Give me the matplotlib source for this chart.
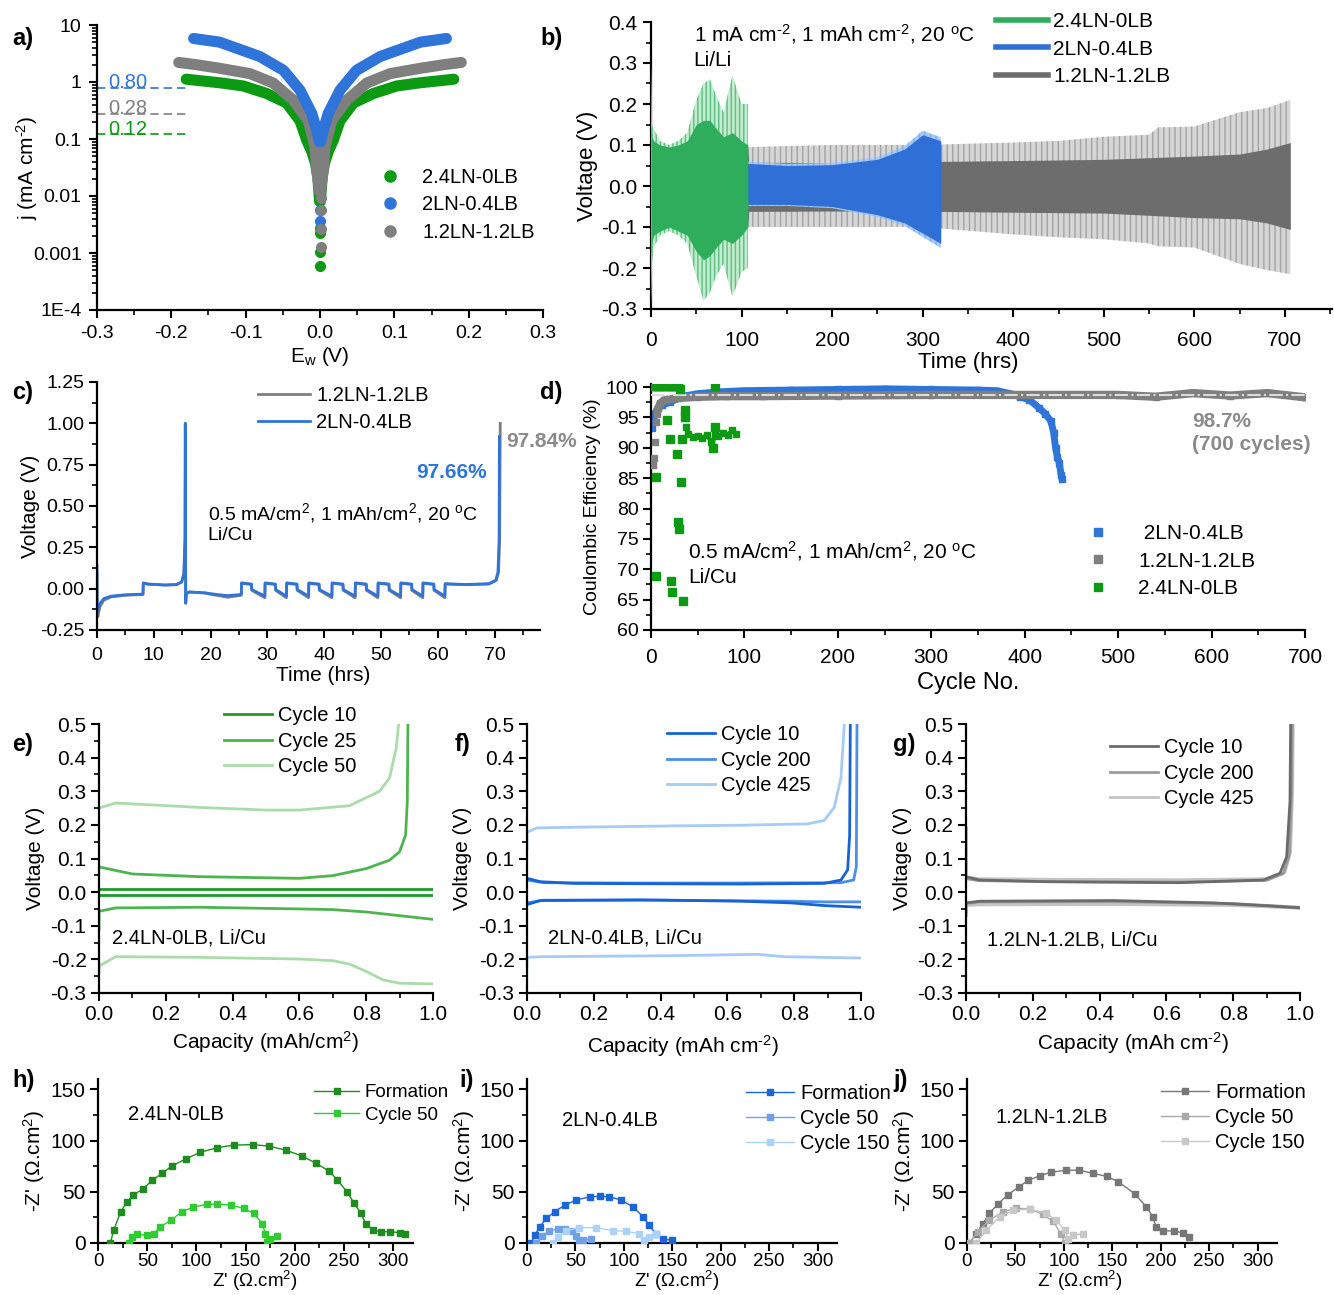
import matplotlib
matplotlib.use('Agg')
import matplotlib.pyplot as plt
from matplotlib.ticker import MultipleLocator, FixedLocator, LogLocator, NullFormatter
from matplotlib.lines import Line2D

plt.rcParams['font.family'] = ['Liberation Sans', 'DejaVu Sans']
plt.rcParams['mathtext.fontset'] = 'custom'
plt.rcParams['mathtext.rm'] = 'Liberation Sans'
plt.rcParams['mathtext.it'] = 'Liberation Sans:italic'
plt.rcParams['mathtext.bf'] = 'Liberation Sans:bold'
plt.rcParams['mathtext.default'] = 'regular'
plt.rcParams['hatch.linewidth'] = 1.0

W, H = 1334, 1295

# ---------------- data ----------------
# a) Tafel plot, positive branch (negative branch is symmetric)
a_E_green = [0.0005, 0.003, 0.006, 0.011, 0.018, 0.027, 0.045, 0.072, 0.103, 0.135, 0.16, 0.18]
a_j_green = [0.008, 0.022, 0.037, 0.06, 0.096, 0.21, 0.43, 0.63, 0.85, 0.97, 1.05, 1.12]
a_E_gray = [0.0005, 0.0045, 0.0067, 0.0157, 0.036, 0.063, 0.094, 0.135, 0.165, 0.19]
a_j_gray = [0.012, 0.029, 0.074, 0.21, 0.48, 0.96, 1.4, 1.74, 2.0, 2.2]
a_E_blue = [0.001, 0.0045, 0.011, 0.027, 0.049, 0.081, 0.135, 0.17]
a_j_blue = [0.09, 0.145, 0.28, 0.72, 1.6, 2.8, 5.0, 5.8]
a_dots_green = [0.0006, 0.00105, 0.0022, 0.0027]
a_dots_gray = [0.00126, 0.0026, 0.0056, 0.0091]
a_dots_blue = [0.0037, 0.0056]
a_j0 = [0.80, 0.28, 0.12]
a_j0_labels = ['0.80', '0.28', '0.12']

# b) Li/Li cycling envelopes
b_gray_t = [0, 107, 108, 200, 320, 400, 500, 600, 650, 680, 706]
b_gray_in_hi = [0.095, 0.095, 0.058, 0.057, 0.06, 0.062, 0.065, 0.073, 0.078, 0.09, 0.106]
b_gray_in_lo = [-0.10, -0.10, -0.062, -0.061, -0.062, -0.064, -0.066, -0.077, -0.08, -0.09, -0.106]
b_grayo_t = [108, 200, 300, 400, 450, 500, 550, 560, 600, 650, 680, 706]
b_gray_out_hi = [0.095, 0.10, 0.10, 0.106, 0.11, 0.12, 0.125, 0.143, 0.145, 0.18, 0.19, 0.21]
b_gray_out_lo = [-0.10, -0.10, -0.10, -0.118, -0.125, -0.13, -0.14, -0.147, -0.15, -0.19, -0.205, -0.215]
b_blue_t = [50, 108, 150, 200, 250, 280, 300, 320]
b_blue_hi = [0.06, 0.055, 0.05, 0.052, 0.065, 0.09, 0.125, 0.11]
b_blue_lo = [-0.065, -0.045, -0.045, -0.05, -0.07, -0.09, -0.115, -0.14]
b_green_t = [0, 1, 3, 10, 20, 30, 40, 50, 58, 65, 72, 80, 90, 100, 107]
b_green_hi = [0.30, 0.15, 0.14, 0.11, 0.10, 0.11, 0.13, 0.21, 0.25, 0.26, 0.22, 0.18, 0.27, 0.20, 0.20]
b_green_lo = [-0.30, -0.19, -0.15, -0.12, -0.11, -0.12, -0.14, -0.22, -0.28, -0.26, -0.22, -0.19, -0.27, -0.21, -0.20]
b_greeni_hi = [0.15, 0.12, 0.11, 0.10, 0.095, 0.10, 0.11, 0.15, 0.16, 0.16, 0.14, 0.12, 0.13, 0.11, 0.10]
b_greeni_lo = [-0.18, -0.14, -0.12, -0.11, -0.10, -0.11, -0.12, -0.16, -0.18, -0.17, -0.15, -0.13, -0.14, -0.12, -0.10]

# c) Li/Cu voltage profile (first cycles)
c_t_blue = [0, 0.02, 0.15, 0.5, 1.2, 2.5, 5, 8.1, 8.15, 9, 12, 14, 14.9, 15.3, 15.5, 15.55, 15.62, 15.7, 16.3, 19, 21, 23, 25.4,
            25.45, 27.2, 27.25, 29.55, 29.6, 31.4, 31.45, 33.35, 33.4, 35.2, 35.25, 37.25, 37.3, 39.1, 39.15, 41.35,
            41.4, 43.3, 43.35, 45.45, 45.5, 47.4, 47.45, 49.45, 49.5, 51.4, 51.45, 53.45, 53.5, 55.4, 55.45, 57.35,
            57.4, 59.3, 59.35, 61.25, 61.3, 65, 69, 70.2, 70.6, 70.8, 70.85]
c_v_blue = [0.14, -0.09, -0.14, -0.09, -0.06, -0.045, -0.037, -0.033, 0.035, 0.028, 0.022, 0.025, 0.04, 0.09, 0.3, 1.0, -0.085, -0.03, -0.02, -0.025, -0.035, -0.042, -0.035,
            0.035, 0.028, -0.005, -0.045, 0.035, 0.028, -0.005, -0.045, 0.035, 0.028, -0.005, -0.045, 0.035, 0.028, -0.005, -0.045,
            0.035, 0.028, -0.005, -0.045, 0.035, 0.028, -0.005, -0.045, 0.035, 0.028, -0.005, -0.045, 0.035, 0.028, -0.005, -0.045,
            0.035, 0.028, -0.005, -0.045, 0.03, 0.025, 0.03, 0.05, 0.1, 0.3, 0.92]
c_t_gray = [0, 0.02, 0.15, 0.5, 1.2, 2.5, 5, 8.1, 8.15, 9, 12, 14, 14.9, 15.3, 15.5, 15.55, 15.62, 15.7, 16.3, 19, 21, 23, 25.4,
            25.45, 27.2, 27.25, 29.55, 29.6, 31.4, 31.45, 33.35, 33.4, 35.2, 35.25, 37.25, 37.3, 39.1, 39.15, 41.35,
            41.4, 43.3, 43.35, 45.45, 45.5, 47.4, 47.45, 49.45, 49.5, 51.4, 51.45, 53.45, 53.5, 55.4, 55.45, 57.35,
            57.4, 59.3, 59.35, 61.25, 61.3, 65, 69, 70.3, 70.7, 70.9, 71.0]
c_v_gray = [0.1, -0.12, -0.17, -0.11, -0.07, -0.05, -0.04, -0.035, 0.033, 0.027, 0.022, 0.024, 0.04, 0.09, 0.3, 1.0, -0.09, -0.03, -0.02, -0.027, -0.04, -0.052, -0.04,
            0.032, 0.025, -0.01, -0.055, 0.032, 0.025, -0.01, -0.055, 0.032, 0.025, -0.01, -0.055, 0.032, 0.025, -0.01, -0.055,
            0.032, 0.025, -0.01, -0.055, 0.032, 0.025, -0.01, -0.055, 0.032, 0.025, -0.01, -0.055, 0.032, 0.025, -0.01, -0.055,
            0.032, 0.025, -0.01, -0.055, 0.028, 0.024, 0.028, 0.05, 0.1, 0.3, 1.0]

# d) Coulombic efficiency
d_blue_cyc = [1, 2, 4, 7, 12, 20, 35, 50, 72, 100, 150, 200, 250, 300, 350, 370, 385, 395, 405, 415, 422, 428, 431, 433, 435, 437, 439, 440]
d_blue_ce = [93.3, 94.5, 95.6, 96.5, 97.0, 97.5, 98.5, 98.9, 99.2, 99.4, 99.5, 99.6, 99.7, 99.6, 99.5, 99.4, 98.9, 98.4, 97.9, 96.6, 95.6, 94.4, 92.5, 90.0, 88.5, 87.5, 85.5, 84.8]
d_gray_cyc = [8, 10, 14, 20, 30, 50, 80, 120, 200, 300, 400, 500, 540, 580, 620, 660, 700]
d_gray_ce = [96.5, 97.3, 97.8, 98.0, 98.2, 98.4, 98.5, 98.5, 98.6, 98.7, 98.7, 98.7, 98.4, 99.0, 98.6, 99.0, 98.3]
d_gray_early_cyc = [2, 3, 4, 5, 6]
d_gray_early_ce = [87.1, 88.3, 91.0, 94.3, 95.5]
d_gray_mean = 98.7
d_green_cyc = [1, 3, 5, 7, 9, 11, 13, 15, 17, 19, 21, 23, 25, 27, 29, 31, 5, 5, 17, 20, 21, 22, 28, 32, 29, 30, 34, 33, 36, 36, 69, 66, 68]
d_green_ce = [100.1, 100.1, 100.1, 100.1, 100.1, 100.1, 100.1, 100.1, 100.1, 100.1, 100.1, 100.1, 100.1, 100.1, 100.1, 99.6,
              85.2, 68.9, 94.5, 91.4, 68.1, 66.3, 88.9, 84.4, 77.7, 76.6, 64.7, 91.4, 96.3, 95.0, 100.1, 89.9, 93.4]
d_green_band_cyc = [37, 40, 45, 50, 55, 60, 64, 66, 68, 72, 77, 82, 87, 91]
d_green_band_ce = [93.5, 92.2, 91.8, 92.0, 91.6, 92.1, 91.0, 90.2, 92.8, 92.0, 92.4, 92.1, 92.9, 92.3]

# e) 2.4LN-0LB voltage profiles
e_c10_x = [0.0, 1.0]
e_c10_up = [0.009, 0.009]
e_c10_dn = [-0.008, -0.008]
e_c25_ch_x = [0.0, 0.1, 0.3, 0.6, 0.7, 0.8, 0.87, 0.9, 0.918, 0.923, 0.925]
e_c25_ch_v = [0.075, 0.054, 0.046, 0.041, 0.049, 0.07, 0.095, 0.12, 0.17, 0.27, 0.50]
e_c25_dc_x = [0.0, 0.0, 0.05, 0.3, 0.6, 0.7, 0.8, 0.9, 1.0]
e_c25_dc_v = [-0.11, -0.057, -0.047, -0.045, -0.05, -0.052, -0.059, -0.07, -0.081]
e_c50_ch_x = [0.0, 0.05, 0.3, 0.5, 0.6, 0.75, 0.84, 0.87, 0.89, 0.897]
e_c50_ch_v = [0.25, 0.265, 0.252, 0.244, 0.244, 0.257, 0.30, 0.34, 0.43, 0.50]
e_c50_dc_x = [0.0, 0.0, 0.05, 0.3, 0.6, 0.7, 0.75, 0.8, 0.85, 0.9, 1.0]
e_c50_dc_v = [-0.24, -0.22, -0.192, -0.194, -0.199, -0.204, -0.214, -0.236, -0.261, -0.271, -0.273]

# f) 2LN-0.4LB voltage profiles
f_c10_ch_x = [0.0, 0.04, 0.14, 0.34, 0.64, 0.89, 0.94, 0.96, 0.966, 0.968]
f_c10_ch_v = [0.041, 0.031, 0.026, 0.025, 0.024, 0.026, 0.036, 0.066, 0.17, 0.50]
f_c10_dc_x = [0.0, 0.04, 0.34, 0.64, 0.79, 0.89, 1.0]
f_c10_dc_v = [-0.037, -0.025, -0.023, -0.027, -0.032, -0.04, -0.045]
f_c200_ch_x = [0.0, 0.05, 0.3, 0.6, 0.94, 0.978, 0.986, 0.988]
f_c200_ch_v = [0.036, 0.028, 0.027, 0.027, 0.028, 0.036, 0.075, 0.50]
f_c200_dc_x = [0.0, 0.05, 0.4, 0.79, 0.89, 1.0]
f_c200_dc_v = [-0.032, -0.024, -0.024, -0.027, -0.029, -0.029]
f_c425_ch_x = [0.0, 0.0, 0.03, 0.14, 0.44, 0.64, 0.84, 0.89, 0.92, 0.94, 0.95]
f_c425_ch_v = [0.13, 0.178, 0.191, 0.193, 0.197, 0.199, 0.203, 0.213, 0.252, 0.34, 0.50]
f_c425_dc_x = [0.0, 0.0, 0.04, 0.44, 0.69, 0.77, 1.0]
f_c425_dc_v = [-0.22, -0.194, -0.192, -0.189, -0.185, -0.192, -0.196]

# g) 1.2LN-1.2LB voltage profiles
g_c10_ch_x = [0.0, 0.0, 0.04, 0.24, 0.64, 0.89, 0.94, 0.96, 0.97, 0.972]
g_c10_ch_v = [0.19, 0.046, 0.036, 0.031, 0.028, 0.036, 0.056, 0.105, 0.27, 0.50]
g_c10_dc_x = [0.0, 0.0, 0.04, 0.44, 0.74, 0.89, 1.0]
g_c10_dc_v = [-0.07, -0.032, -0.027, -0.025, -0.032, -0.04, -0.047]
g_c200_ch_x = [0.0, 0.04, 0.3, 0.64, 0.9, 0.95, 0.968, 0.975, 0.977]
g_c200_ch_v = [0.04, 0.034, 0.031, 0.03, 0.035, 0.055, 0.11, 0.3, 0.50]
g_c200_dc_x = [0.0, 0.04, 0.44, 0.8, 1.0]
g_c200_dc_v = [-0.034, -0.03, -0.029, -0.034, -0.045]
g_c425_ch_x = [0.0, 0.04, 0.3, 0.64, 0.9, 0.955, 0.972, 0.978, 0.98]
g_c425_ch_v = [0.045, 0.04, 0.038, 0.037, 0.04, 0.058, 0.12, 0.3, 0.50]
g_c425_dc_x = [0.0, 0.0, 0.04, 0.44, 0.8, 1.0]
g_c425_dc_v = [-0.06, -0.04, -0.038, -0.037, -0.04, -0.048]

# h-j) Nyquist plots
h_form_x = [12.5, 16, 23, 29.5, 36, 46, 55, 65, 75, 89, 104, 121, 138, 157, 174, 191, 207, 221, 235, 243, 253, 260, 267, 272, 279, 287, 297, 307, 312]
h_form_y = [0, 12.5, 30.5, 40, 47, 53, 61, 68, 75, 82, 88.5, 93, 95.5, 96, 94.5, 90.5, 85, 78, 70, 61.6, 50, 39, 29, 19, 12.5, 11, 11, 10, 8.5]
h_c50_x = [31, 35, 40, 50, 57, 63, 74, 85, 97, 111, 121, 135, 148, 158, 167, 170, 172, 175, 182]
h_c50_y = [0, 6, 8.5, 7.5, 9, 15.7, 22, 30.5, 35, 37.8, 38, 37, 33.8, 29, 19, 9, 1, 4, 6.5]
i_form_x = [4.5, 8, 13, 20, 28.5, 39, 51, 64.6, 75, 85, 97, 109, 120, 126, 133, 140, 150]
i_form_y = [0, 7.5, 15.7, 24, 30.5, 37, 42, 45, 45.6, 45, 42, 35.4, 25.6, 17.4, 9, 4, 2.6]
i_c50_x = [9.6, 15, 23, 32, 39, 46, 51, 54, 58, 66]
i_c50_y = [0, 6.5, 11.8, 14, 14, 12, 7, 0, 2.6, 4]
i_c150_x = [27, 32, 40.5, 54, 71.5, 89, 102, 116, 121, 126, 133]
i_c150_y = [0, 6, 12, 15, 15, 12, 11.5, 9, 2.6, 6, 9]
j_form_x = [2.7, 9.6, 16.5, 23, 32, 42, 54, 63, 75, 87, 102, 116, 130, 144, 156, 173, 185, 192, 195, 202, 214, 223, 229]
j_form_y = [0, 9, 19, 29, 38, 47, 55, 61, 65.6, 69, 71, 71, 68, 65, 60, 48, 35.4, 25.6, 15.7, 11.8, 11.8, 9.8, 6]
j_c50_x = [2.7, 11, 23, 37, 51, 65, 78, 89, 97, 101]
j_c50_y = [0, 11, 22, 30.5, 34, 33, 28, 21, 9, 0]
j_c150_x = [9.6, 20, 34, 47, 65, 82, 92, 101, 104, 109, 120]
j_c150_y = [0, 12.5, 25.6, 32, 33, 29, 22, 12.5, 4, 7.5, 9]

# colours
GREEN, BLUE, GRAY = '#0b9a12', '#2f74d8', '#7f7f7f'

fig = plt.figure(figsize=(W / 100, H / 100), dpi=100)


def add_ax(box, size=14, pad=3):
    l, t, r, b = box
    ax = fig.add_axes([l / W, 1 - b / H, (r - l) / W, (b - t) / H])
    for s in ('top', 'right'):
        ax.spines[s].set_visible(False)
    for s in ('left', 'bottom'):
        ax.spines[s].set_linewidth(1.6)
    ax.tick_params(which='major', direction='out', length=6, width=1.5, labelsize=size, pad=pad)
    ax.tick_params(which='minor', direction='out', length=3.5, width=1.2)
    return ax


def set_labels(ax, box, xlabel, xc, xtop, ylabel, yright, size=15, ysize=None):
    l, t, r, b = box
    ax.set_xlabel(xlabel, fontsize=size)
    ax.set_ylabel(ylabel, fontsize=ysize or size)
    ax.xaxis.set_label_coords((xc - l) / (r - l), (b - xtop) / (b - t))
    ax.yaxis.set_label_coords((yright - l) / (r - l), 0.5)


def legend(ax, handles, labels, x, top, hl=2.5, size=14, spacing=0.3, tp=0.3):
    ax.legend(handles, labels, loc='upper left', bbox_to_anchor=(x / W, 1 - top / H),
              bbox_transform=fig.transFigure, frameon=False, fontsize=size, handlelength=hl,
              handletextpad=tp, labelspacing=spacing, borderpad=0, borderaxespad=0)


def letter(s, x, y):
    fig.text(x / W, 1 - y / H, s, fontsize=17, fontweight='bold', va='center', ha='left')


# ---------------- a) ----------------
box_a = (97, 25, 543, 310)
ax = add_ax(box_a, pad=5)
for E, j, col in [(a_E_green, a_j_green, GREEN), (a_E_gray, a_j_gray, GRAY), (a_E_blue, a_j_blue, BLUE)]:
    xs = [-e for e in reversed(E)] + list(E)
    ys = list(reversed(j)) + list(j)
    ax.plot(xs, ys, color=col, lw=8, solid_capstyle='round', solid_joinstyle='round', zorder=2)
ax.plot([0.0] * len(a_dots_green), a_dots_green, 'o', color=GREEN, ms=7, zorder=3)
ax.plot([0.0] * len(a_dots_blue), a_dots_blue, 'o', color=BLUE, ms=7, zorder=3)
ax.plot([0.001] * len(a_dots_gray), a_dots_gray, 'o', color=GRAY, ms=7, zorder=4)
for jv, lab, col in zip(a_j0, a_j0_labels, [BLUE, GRAY, GREEN]):
    ax.plot([-0.3, -0.178], [jv, jv], ls='--', color=col, lw=1.2, dashes=(5, 3))
    ax.text(-0.285, jv * 1.22, lab, color=col, fontsize=14.5, va='center', ha='left')
ax.set_yscale('log')
ax.set_xlim(-0.3, 0.3)
ax.set_ylim(1e-4, 10)
ax.xaxis.set_major_locator(FixedLocator([-0.3, -0.2, -0.1, 0.0, 0.1, 0.2, 0.3]))
ax.set_xticklabels(['-0.3', '-0.2', '-0.1', '0.0', '0.1', '0.2', '0.3'])
ax.xaxis.set_minor_locator(MultipleLocator(0.05))
ax.yaxis.set_major_locator(FixedLocator([1e-4, 1e-3, 1e-2, 1e-1, 1, 10]))
ax.set_yticklabels(['1E-4', '0.001', '0.01', '0.1', '1', '10'])
ax.yaxis.set_minor_locator(LogLocator(base=10, subs=range(2, 10), numticks=20))
ax.yaxis.set_minor_formatter(NullFormatter())
set_labels(ax, box_a, 'E$_w$ (V)', 320, 345, 'j (mA cm$^{\u2010 2}$)', 40)
hs = [Line2D([], [], ls='none', marker='o', ms=8, color=c) for c in (GREEN, BLUE, GRAY)]
legend(ax, hs, ['2.4LN-0LB', '2LN-0.4LB', '1.2LN-1.2LB'], 378, 168, hl=1.2, size=14.5, spacing=0.42, tp=1.0)
letter('a)', 12, 38)

# ---------------- b) ----------------
box_b = (651, 22, 1332, 309)
ax = add_ax(box_b, size=15, pad=10)
plt.rcParams['hatch.color'] = '#a3a3a3'
ax.fill_between(b_grayo_t, b_gray_out_lo, b_gray_out_hi, facecolor='#d6d6d6', edgecolor='#a3a3a3', hatch='|||', lw=0, zorder=1)
ax.fill_between(b_gray_t, b_gray_in_lo, b_gray_in_hi, color='#6d6d6d', lw=0, zorder=2)
plt.rcParams['hatch.color'] = '#7fb0ee'
ax.fill_between(b_blue_t, [v * 1.08 for v in b_blue_lo], [v * 1.08 for v in b_blue_hi], facecolor='#a9c8f2',
                edgecolor='#7fb0ee', hatch='|||', lw=0, zorder=3)
ax.fill_between(b_blue_t, b_blue_lo, b_blue_hi, color='#2f6fd6', lw=0, zorder=4)
plt.rcParams['hatch.color'] = '#5cc07f'
ax.fill_between(b_green_t, b_green_lo, b_green_hi, facecolor='#c2ebcf', edgecolor='#5cc07f', hatch='||||', lw=0, zorder=5)
ax.fill_between(b_green_t, b_greeni_lo, b_greeni_hi, color='#2eae5c', lw=0, zorder=6)
ax.set_xlim(0, 752)
ax.set_ylim(-0.3, 0.4)
ax.xaxis.set_major_locator(MultipleLocator(100))
ax.xaxis.set_minor_locator(MultipleLocator(50))
ax.yaxis.set_major_locator(MultipleLocator(0.1))
ax.yaxis.set_minor_locator(MultipleLocator(0.05))
ax.yaxis.set_major_formatter(lambda v, p: f'{v:.1f}')
ax.tick_params(axis='y', pad=4)
set_labels(ax, box_b, 'Time (hrs)', 968, 352, 'Voltage (V)', 598, size=16)
ax.text(47, 0.37, '1 mA cm$^{\u2010 2}$, 1 mAh cm$^{\u2010 2}$, 20 $^o$C', fontsize=15, va='center')
ax.text(47, 0.305, 'Li/Li', fontsize=15, va='center')
hs = [Line2D([], [], color=c, lw=4) for c in ('#2eae5c', '#2f6fd6', '#6d6d6d')]
legend(ax, hs, ['2.4LN-0LB', '2LN-0.4LB', '1.2LN-1.2LB'], 996, 12, hl=2.5, size=15, spacing=0.42, tp=0.25)
letter('b)', 540, 38)

# ---------------- c) ----------------
box_c = (97, 382, 540, 630)
ax = add_ax(box_c, pad=6)
ax.plot(c_t_gray, c_v_gray, color=GRAY, lw=2)
ax.plot(c_t_blue, c_v_blue, color=BLUE, lw=2)
ax.set_xlim(0, 78)
ax.set_ylim(-0.25, 1.25)
ax.xaxis.set_major_locator(MultipleLocator(10))
ax.xaxis.set_minor_locator(MultipleLocator(5))
ax.yaxis.set_major_locator(MultipleLocator(0.25))
ax.yaxis.set_minor_locator(MultipleLocator(0.125))
ax.yaxis.set_major_formatter(lambda v, p: f'{v:.2f}')
ax.tick_params(axis='y', pad=3)
set_labels(ax, box_c, 'Time (hrs)', 323, 666, 'Voltage (V)', 40)
ax.text(19.5, 0.46, '0.5 mA/cm$^2$, 1 mAh/cm$^2$, 20 $^o$C', fontsize=14, va='center')
ax.text(19.5, 0.32, 'Li/Cu', fontsize=14, va='center')
ax.text(62.4, 0.70, '97.66%', color=BLUE, fontsize=15, fontweight='bold', ha='center', va='center')
ax.text(72.0, 0.89, '97.84%', color='#8a8a8a', fontsize=15, fontweight='bold', ha='left', va='center', clip_on=False)
hs = [Line2D([], [], color=c, lw=2) for c in (GRAY, BLUE)]
legend(ax, hs, ['1.2LN-1.2LB', '2LN-0.4LB'], 258, 386, hl=2.6, size=14.5, spacing=0.42, tp=0.3)
letter('c)', 12, 393)

# ---------------- d) ----------------
box_d = (651, 384, 1305, 630)
ax = add_ax(box_d, size=15, pad=7)
ax.plot(d_gray_cyc, d_gray_ce, color=GRAY, lw=6, marker='s', ms=5, zorder=3)
ax.plot(d_gray_early_cyc, d_gray_early_ce, 's', color=GRAY, ms=5, zorder=3)
ax.axhline(d_gray_mean, color='#dcdcdc', lw=1.5, ls='-.', zorder=4)
ax.plot(d_blue_cyc, d_blue_ce, color=BLUE, lw=5, marker='s', ms=5, zorder=2)
ax.plot(d_green_cyc, d_green_ce, 's', color=GREEN, ms=6, zorder=5)
ax.plot(d_green_band_cyc, d_green_band_ce, color=GREEN, lw=3, marker='s', ms=5, zorder=5)
ax.set_xlim(0, 700)
ax.set_ylim(60, 100.5)
ax.xaxis.set_major_locator(MultipleLocator(100))
ax.xaxis.set_minor_locator(MultipleLocator(50))
ax.yaxis.set_major_locator(MultipleLocator(5))
ax.yaxis.set_minor_locator(MultipleLocator(2.5))
ax.tick_params(axis='y', pad=3, labelsize=14)
set_labels(ax, box_d, 'Cycle No.', 968, 672, 'Coulombic Efficiency (%)', 601, size=17, ysize=14)
ax.text(40, 73, '0.5 mA/cm$^2$, 1 mAh/cm$^2$, 20 $^o$C', fontsize=15, va='center')
ax.text(40, 68.6, 'Li/Cu', fontsize=15, va='center')
ax.text(579, 92.4, '98.7%\n(700 cycles)', color='#8a8a8a', fontsize=15, fontweight='bold', ha='left', va='center', linespacing=1.3)
hs = [Line2D([], [], ls='none', marker='s', ms=6, color=c) for c in (BLUE, GRAY, GREEN)]
legend(ax, hs, [' 2LN-0.4LB', '1.2LN-1.2LB', '2.4LN-0LB'], 1082, 524, hl=1.5, size=15, spacing=0.42, tp=1.2)
letter('d)', 540, 393)


def profile_axes(box, curves, cols, leg_labels, leg_pos, note, xlabel, xc, xtop, yr):
    ax = add_ax(box, size=15)
    for (xs, vs), c in curves:
        ax.plot(xs, vs, color=c, lw=2)
    ax.set_xlim(0, 1.0)
    ax.set_ylim(-0.3, 0.5)
    ax.xaxis.set_major_locator(MultipleLocator(0.2))
    ax.xaxis.set_minor_locator(MultipleLocator(0.1))
    ax.yaxis.set_major_locator(MultipleLocator(0.1))
    ax.yaxis.set_minor_locator(MultipleLocator(0.05))
    ax.xaxis.set_major_formatter(lambda v, p: f'{v:.1f}')
    ax.yaxis.set_major_formatter(lambda v, p: f'{abs(v):.1f}' if abs(v) < 1e-9 else f'{v:.1f}')
    set_labels(ax, box, xlabel, xc, xtop, 'Voltage (V)', yr, size=15)
    ax.text(note[0], note[1], note[2], fontsize=14.5, va='center')
    hs = [Line2D([], [], color=c, lw=2) for c in cols]
    legend(ax, hs, leg_labels, leg_pos[0], leg_pos[1], hl=2.4, size=14.5, spacing=0.33, tp=0.3)
    return ax


# ---------------- e) ----------------
ec = ['#1e9a26', '#4db450', '#a9dca9']
profile_axes((99, 724, 433, 993),
             [((e_c50_ch_x, e_c50_ch_v), ec[2]), ((e_c50_dc_x, e_c50_dc_v), ec[2]),
              ((e_c25_ch_x, e_c25_ch_v), ec[1]), ((e_c25_dc_x, e_c25_dc_v), ec[1]),
              ((e_c10_x, e_c10_up), ec[0]), ((e_c10_x, e_c10_dn), ec[0])],
             ec, ['Cycle 10', 'Cycle 25', 'Cycle 50'], (224, 706),
             (0.04, -0.135, '2.4LN-0LB, Li/Cu'), 'Capacity (mAh/cm$^2$)', 266, 1029, 45)
letter('e)', 12, 745)

# ---------------- f) ----------------
fc = ['#1763d6', '#4a8fe8', '#a6cbf4']
profile_axes((527, 724, 861, 993),
             [((f_c425_ch_x, f_c425_ch_v), fc[2]), ((f_c425_dc_x, f_c425_dc_v), fc[2]),
              ((f_c200_ch_x, f_c200_ch_v), fc[1]), ((f_c200_dc_x, f_c200_dc_v), fc[1]),
              ((f_c10_ch_x, f_c10_ch_v), fc[0]), ((f_c10_dc_x, f_c10_dc_v), fc[0])],
             fc, ['Cycle 10', 'Cycle 200', 'Cycle 425'], (667, 725),
             (0.063, -0.135, '2LN-0.4LB, Li/Cu'), 'Capacity (mAh cm$^{\u2010 2}$)', 683, 1033, 472)
letter('f)', 455, 745)

# ---------------- g) ----------------
gc = ['#6b6b6b', '#9a9a9a', '#c4c4c4']
profile_axes((966, 724, 1300, 993),
             [((g_c425_ch_x, g_c425_ch_v), gc[2]), ((g_c425_dc_x, g_c425_dc_v), gc[2]),
              ((g_c200_ch_x, g_c200_ch_v), gc[1]), ((g_c200_dc_x, g_c200_dc_v), gc[1]),
              ((g_c10_ch_x, g_c10_ch_v), gc[0]), ((g_c10_dc_x, g_c10_dc_v), gc[0])],
             gc, ['Cycle 10', 'Cycle 200', 'Cycle 425'], (1110, 738),
             (0.063, -0.143, '1.2LN-1.2LB, Li/Cu'), 'Capacity (mAh cm$^{\u2010 2}$)', 1133, 1030, 912)
letter('g)', 893, 745)


def nyquist_axes(box, series, leg_labels, leg_pos, note, xc, yr, leg_size=14.5):
    ax = add_ax(box, size=13.5, pad=1.5)
    hs = []
    for (xs, ys), c in series:
        ax.plot(xs, ys, color=c, lw=1, marker='s', ms=4, zorder=3)
        hs.append(Line2D([], [], color=c, lw=1, marker='s', ms=4))
    ax.set_xlim(0, 320)
    ax.set_ylim(0, 160)
    ax.xaxis.set_major_locator(MultipleLocator(50))
    ax.xaxis.set_minor_locator(MultipleLocator(25))
    ax.yaxis.set_major_locator(MultipleLocator(50))
    ax.yaxis.set_minor_locator(MultipleLocator(25))
    ax.tick_params(axis='y', labelsize=15, pad=3)
    set_labels(ax, box, "Z' ($\\Omega$.cm$^2$)", xc, 1269, "-Z' ($\\Omega$.cm$^2$)", yr, size=13.5)
    ax.set_ylabel("-Z' ($\\Omega$.cm$^2$)", fontsize=15)
    ax.text(note[0], note[1], note[2], fontsize=14.5, va='center')
    legend(ax, hs, leg_labels, leg_pos[0], leg_pos[1], hl=2.4, size=leg_size, spacing=0.3, tp=0.3)
    return ax


# ---------------- h) ----------------
nyquist_axes((98, 1079, 413, 1243),
             [((h_form_x, h_form_y), '#1f8c1f'), ((h_c50_x, h_c50_y), '#2fcc2f')],
             ['Formation', 'Cycle 50'], (314, 1084), (30, 125, '2.4LN-0LB'), 255, 47, leg_size=13.5)
letter('h)', 12, 1080)

# ---------------- i) ----------------
nyquist_axes((527, 1079, 837, 1243),
             [((i_form_x, i_form_y), '#1a66d9'), ((i_c50_x, i_c50_y), '#6fa1e8'), ((i_c150_x, i_c150_y), '#acd3f7')],
             ['Formation', 'Cycle 50', 'Cycle 150'], (746, 1084), (36, 120, '2LN-0.4LB'), 677, 477)
letter('i)', 459, 1081)

# ---------------- j) ----------------
nyquist_axes((967, 1079, 1277, 1243),
             [((j_form_x, j_form_y), '#777777'), ((j_c50_x, j_c50_y), '#aaaaaa'), ((j_c150_x, j_c150_y), '#c8c8c8')],
             ['Formation', 'Cycle 50', 'Cycle 150'], (1161, 1083), (29, 122, '1.2LN-1.2LB'), 1080, 917)
letter('j)', 893, 1081)

fig.savefig('out.png', dpi=100)
